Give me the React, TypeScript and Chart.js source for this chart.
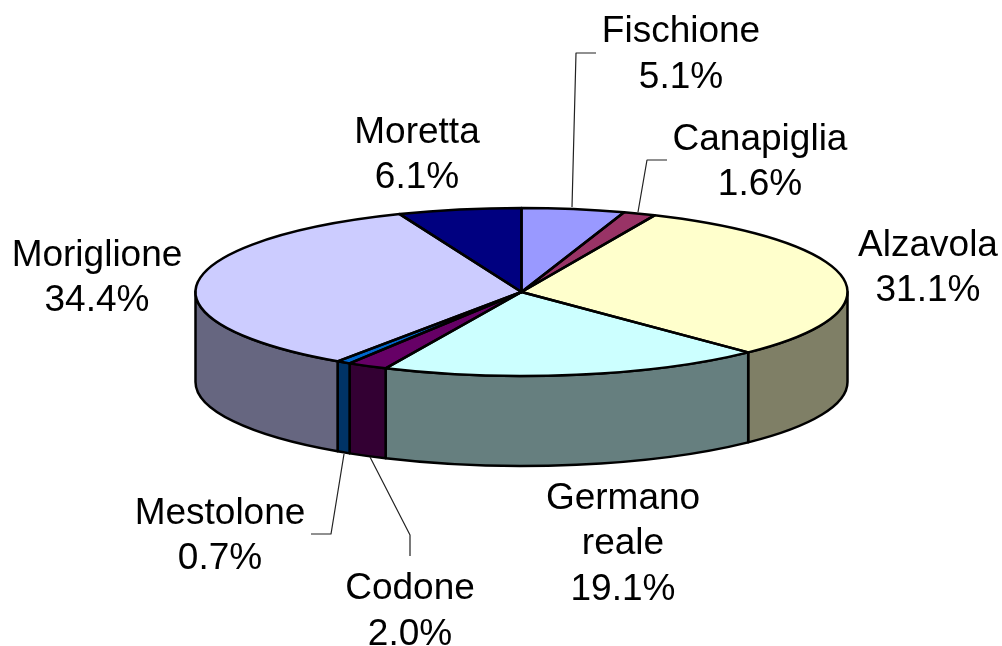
import React, { useEffect, useRef } from "react";
import { Chart, registerables } from "chart.js";

Chart.register(...registerables);

const categories = ["Fischione", "Canapiglia", "Alzavola", "Germano reale", "Codone", "Mestolone", "Moriglione", "Moretta"];
const shares = [5.1, 1.6, 31.1, 19.1, 2.0, 0.7, 34.4, 6.1];
const topColors = ["#9999FF", "#993366", "#FFFFCC", "#CCFFFF", "#660066", "#0066CC", "#CCCCFF", "#000080"];
const sideColors = ["#4C4C80", "#4C1933", "#7F7F66", "#667F7F", "#330033", "#003366", "#666680", "#000040"];

const labelLines = [
  ["Fischione"], ["Canapiglia"], ["Alzavola"], ["Germano", "reale"], ["Codone"], ["Mestolone"], ["Moriglione"], ["Moretta"],
];
const labelCenters = [
  [681, 32], [760, 139.5], [928, 245.5], [623, 498.5], [410, 589], [220, 513.5], [97, 255.5], [417, 132.5],
];
const leaders = [
  [[596, 53], [576, 53], [572, 207]],
  [[667, 160], [647, 160], [638, 212]],
  [[311, 534], [331, 534], [344, 454]],
  [[370, 457], [410, 535], [410, 556]],
];

const CX = 521.5, CY = 292, RX = 326, RY = 84, DEPTH = 90;
const LINE_H = 45.5;

const piePlugin = {
  id: "pie3d",
  beforeDatasetsDraw(chart: any) {
    const ctx = chart.ctx;
    const arcs = chart.getDatasetMeta(0).data;
    ctx.save();
    ctx.lineWidth = 2.5;
    ctx.strokeStyle = "#000";
    ctx.lineJoin = "round";
    arcs.forEach((el: any, i: number) => {
      const a = Math.max(el.startAngle, 0);
      const b = Math.min(el.endAngle, Math.PI);
      if (b <= a) return;
      ctx.beginPath();
      ctx.ellipse(CX, CY, RX, RY, 0, a, b);
      ctx.ellipse(CX, CY + DEPTH, RX, RY, 0, b, a, true);
      ctx.closePath();
      ctx.fillStyle = sideColors[i];
      ctx.fill();
      ctx.stroke();
    });
    ctx.restore();
    const first = arcs[0];
    const sx = RX / first.outerRadius;
    const sy = RY / first.outerRadius;
    ctx.save();
    ctx.transform(sx, 0, 0, sy, CX - sx * first.x, CY - sy * first.y);
  },
  afterDatasetsDraw(chart: any) {
    const ctx = chart.ctx;
    ctx.restore();
    const arcs = chart.getDatasetMeta(0).data;
    ctx.save();
    ctx.lineWidth = 2.5;
    ctx.strokeStyle = "#000";
    ctx.lineJoin = "round";
    arcs.forEach((el: any) => {
      ctx.beginPath();
      ctx.moveTo(CX, CY);
      ctx.ellipse(CX, CY, RX, RY, 0, el.startAngle, el.endAngle);
      ctx.closePath();
      ctx.stroke();
    });
    ctx.lineWidth = 1.2;
    ctx.strokeStyle = "#222";
    leaders.forEach((pts) => {
      ctx.beginPath();
      pts.forEach(([x, y], k) => (k ? ctx.lineTo(x, y) : ctx.moveTo(x, y)));
      ctx.stroke();
    });
    ctx.fillStyle = "#000";
    ctx.font = '37px "Liberation Sans"';
    ctx.textAlign = "center";
    ctx.textBaseline = "middle";
    categories.forEach((_, i) => {
      const lines = [...labelLines[i], shares[i].toFixed(1) + "%"];
      const [x, y] = labelCenters[i];
      lines.forEach((t, k) => ctx.fillText(t, x, y + k * LINE_H));
    });
    ctx.restore();
  },
};

export default function App() {
  const ref = useRef<HTMLCanvasElement>(null);
  useEffect(() => {
    document.body.style.margin = "0";
    document.body.style.background = "#fff";
    const chart = new Chart(ref.current!, {
      type: "pie",
      data: {
        labels: categories,
        datasets: [{ data: shares, backgroundColor: topColors, borderWidth: 0 }],
      },
      options: {
        responsive: false,
        animation: false,
        plugins: { legend: { display: false }, tooltip: { enabled: false } },
      },
      plugins: [piePlugin],
    } as any);
    return () => chart.destroy();
  }, []);
  return <canvas ref={ref} width={1002} height={646} style={{ display: "block" }} />;
}
